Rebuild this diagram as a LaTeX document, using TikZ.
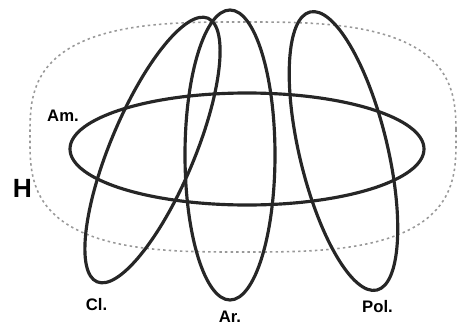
\documentclass[tikz,border=0pt]{standalone}
\usepackage{fontspec}
\setmainfont{Liberation Sans}
\usepackage{tikz}
\tikzset{
  ring/.style={draw=black!85, line width=1.8pt},
  hull/.style={draw=black!40, line width=0.9pt, dash pattern=on 1.4pt off 1.8pt},
  lbl/.style={font=\fontsize{9.5}{11}\selectfont\bfseries, inner sep=0pt},
  big/.style={font=\fontsize{15}{17}\selectfont\bfseries, inner sep=0pt},
}

\begin{document}
\begin{tikzpicture}[x=0.02cm, y=0.02cm]
\useasboundingbox (0,0) rectangle (458,326);
\coordinate (hc) at (243,189);
\coordinate (amc) at (247,177);
\coordinate (clc) at (152.5,176);
\coordinate (arc) at (230,171);
\coordinate (polc) at (343.5,175);
\draw[hull] plot[domain=1:361, samples=121, smooth]
  ({243+213*sign(cos(\x))*abs(cos(\x))^(0.667)},
   {189+115*sign(sin(\x))*abs(sin(\x))^(0.667)}) -- cycle;
\draw[ring] (amc) ellipse [x radius=177, y radius=56];
\draw[ring, rotate around={-22.8:(clc)}] (clc) ellipse [x radius=42, y radius=143];
\draw[ring] (arc) ellipse [x radius=45, y radius=145];
\draw[ring, rotate around={13.5:(polc)}] (polc) ellipse [x radius=44, y radius=143];
\node[lbl] (am) at (63,210) {Am.};
\node[big] (h) at (22.5,138) {H};
\node[lbl] (cl) at (96.5,21) {Cl.};
\node[lbl] (ar) at (230,9) {Ar.};
\node[lbl] (pol) at (377.5,19) {Pol.};
\end{tikzpicture}
\end{document}
